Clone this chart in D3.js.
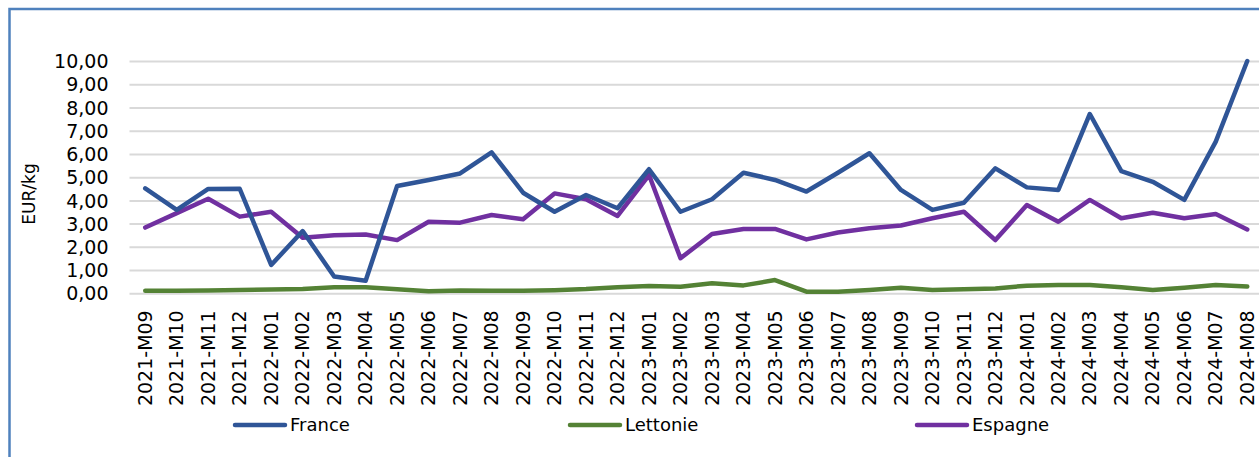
<!DOCTYPE html>
<html>
<head>
<meta charset="utf-8">
<script src="https://cdn.jsdelivr.net/npm/d3@7"></script>
<style>
  body { margin: 0; background: #fff; }
  text { font-family: "DejaVu Sans", sans-serif; fill: #000; }
</style>
</head>
<body>
<div id="root"></div>
<script>
"use strict";

// ---------- data ----------
const months = [
    "2021-M09", "2021-M10", "2021-M11", "2021-M12",
    "2022-M01", "2022-M02", "2022-M03", "2022-M04", "2022-M05", "2022-M06",
    "2022-M07", "2022-M08", "2022-M09", "2022-M10", "2022-M11", "2022-M12",
    "2023-M01", "2023-M02", "2023-M03", "2023-M04", "2023-M05", "2023-M06",
    "2023-M07", "2023-M08", "2023-M09", "2023-M10", "2023-M11", "2023-M12",
    "2024-M01", "2024-M02", "2024-M03", "2024-M04", "2024-M05", "2024-M06",
    "2024-M07", "2024-M08"
];

const france = [
    4.52, 3.59, 4.49, 4.50, 1.22, 2.68, 0.72, 0.54, 4.62, 4.88,
    5.16, 6.07, 4.33, 3.51, 4.23, 3.66, 5.34, 3.51, 4.05, 5.19,
    4.88, 4.38, 5.19, 6.03, 4.45, 3.59, 3.90, 5.38, 4.56, 4.45,
    7.72, 5.26, 4.80, 4.02, 6.53, 10.00
];

const lettonie = [
    0.11, 0.11, 0.12, 0.14, 0.16, 0.19, 0.26, 0.26, 0.17, 0.09,
    0.12, 0.11, 0.11, 0.13, 0.18, 0.26, 0.31, 0.28, 0.43, 0.34,
    0.57, 0.07, 0.07, 0.14, 0.24, 0.14, 0.17, 0.21, 0.33, 0.36,
    0.36, 0.26, 0.14, 0.24, 0.36, 0.29
];

const espagne = [
    2.83, 3.45, 4.07, 3.30, 3.51, 2.39, 2.50, 2.53, 2.29, 3.08,
    3.04, 3.37, 3.19, 4.30, 4.05, 3.33, 5.09, 1.51, 2.55, 2.77,
    2.77, 2.32, 2.62, 2.80, 2.92, 3.23, 3.51, 2.29, 3.80, 3.08,
    4.02, 3.23, 3.47, 3.23, 3.41, 2.75
];

const yTicks = [0, 1, 2, 3, 4, 5, 6, 7, 8, 9, 10];

const series = [
    { name: "France", values: france, color: "#2f5597" },
    { name: "Lettonie", values: lettonie, color: "#548235" },
    { name: "Espagne", values: espagne, color: "#7030a0" }
];

// ---------- layout ----------
const width = 1259;
const height = 457;
const plot = { left: 129.5, right: 1263, top: 61, bottom: 293.3 };

const svg = d3.select("#root").append("svg")
    .attr("width", width)
    .attr("height", height);

// outer frame (only left and top edges are visible)
svg.append("path")
    .attr("d", `M9.5,${height + 5} V9 H${width + 5}`)
    .attr("fill", "none")
    .attr("stroke", "#4f81bd")
    .attr("stroke-width", 2.5);

// ---------- scales ----------
const xScale = d3.scaleBand()
    .domain(months)
    .range([plot.left, plot.right]);

const xPos = (m) => xScale(m) + xScale.bandwidth() / 2;

const yScale = d3.scaleLinear()
    .domain([0, 10])
    .range([plot.bottom, plot.top]);

const fmt = (v) => d3.format(".2f")(v).replace(".", ",");

// ---------- gridlines + y axis ----------
const yAxis = d3.axisLeft(yScale)
    .tickValues(yTicks)
    .tickSize(-(plot.right - plot.left))
    .tickPadding(21)
    .tickFormat(fmt);

const yG = svg.append("g")
    .attr("transform", `translate(${plot.left},0)`)
    .call(yAxis);
yG.select(".domain").remove();
yG.selectAll(".tick line")
    .attr("stroke", "#d9d9d9")
    .attr("stroke-width", 2);
yG.selectAll(".tick text")
    .style("font-size", "19px")
    .attr("dy", "0.35em");

// y axis title
svg.append("text")
    .attr("transform", `translate(35,194) rotate(-90)`)
    .attr("text-anchor", "middle")
    .style("font-size", "17px")
    .text("EUR/kg");

// ---------- x axis ----------
const xAxis = d3.axisBottom(xScale).tickSize(0).tickPadding(0);
const xG = svg.append("g")
    .attr("transform", `translate(0,${plot.bottom})`)
    .call(xAxis);
xG.select(".domain").remove();
xG.selectAll(".tick text")
    .style("font-size", "19px")
    .attr("text-anchor", "end")
    .attr("transform", "translate(0,17) rotate(-90)")
    .attr("x", 0)
    .attr("y", 0)
    .attr("dy", "0.35em");

// ---------- lines ----------
const line = d3.line()
    .x((d, i) => xPos(months[i]))
    .y((d) => yScale(d));

svg.append("g").selectAll("path")
    .data([series[1], series[2], series[0]])
    .enter().append("path")
    .attr("d", (d) => line(d.values))
    .attr("fill", "none")
    .attr("stroke", (d) => d.color)
    .attr("stroke-width", 4.5)
    .attr("stroke-linejoin", "round")
    .attr("stroke-linecap", "round");

// ---------- legend ----------
const legendX = [235, 570, 917];
const legendG = svg.append("g").selectAll("g")
    .data(series)
    .enter().append("g")
    .attr("transform", (d, i) => `translate(${legendX[i]},425)`);

legendG.append("line")
    .attr("x1", 0).attr("x2", 50)
    .attr("stroke", (d) => d.color)
    .attr("stroke-width", 4.5)
    .attr("stroke-linecap", "round");

legendG.append("text")
    .attr("x", 55)
    .attr("dy", "0.35em")
    .style("font-size", "18px")
    .text((d) => d.name);
</script>
</body>
</html>
